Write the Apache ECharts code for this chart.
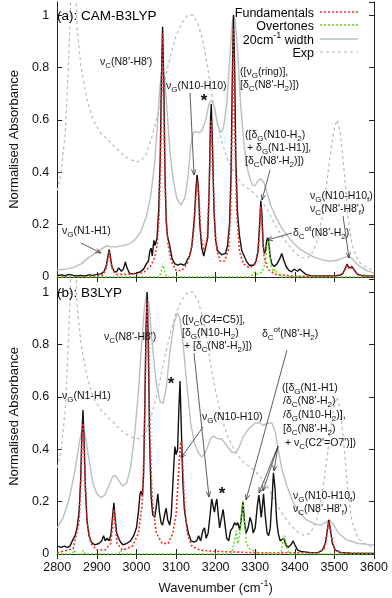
<!DOCTYPE html>
<html>
<head>
<meta charset="utf-8">
<script src="https://cdn.jsdelivr.net/npm/echarts@6/dist/echarts.min.js"></script>
<style>
  html, body { margin: 0; background: #fff; }
  #chart { width: 392px; height: 598px; }
</style>
</head>
<body>
<div id="chart"></div>
<script>
// ---- data: [wavenumber, normalised absorbance] ----
// panel (a) CAM-B3LYP
const camFit = [[2800,0.005],[2810,0.008],[2820,0.005],[2830,0.01],[2840,0.006],[2850,0.004],[2860,0.006],[2870,0.004],[2880,0.008],[2890,0.006],[2900,0.01],[2910,0.012],[2918,0.02],[2924,0.045],[2928,0.08],[2931,0.105],[2934,0.08],[2938,0.04],[2944,0.02],[2950,0.02],[2955,0.035],[2958,0.04],[2962,0.022],[2967,0.03],[2972,0.058],[2976,0.035],[2982,0.015],[2990,0.012],[3000,0.015],[3010,0.02],[3018,0.03],[3025,0.05],[3030,0.06],[3034,0.1],[3037,0.11],[3040,0.08],[3044,0.14],[3047,0.12],[3052,0.15],[3056,0.25],[3060,0.45],[3063,0.75],[3066,0.955],[3069,0.75],[3072,0.4],[3075,0.22],[3078,0.16],[3081,0.155],[3084,0.12],[3090,0.07],[3097,0.05],[3105,0.045],[3112,0.05],[3118,0.045],[3124,0.05],[3128,0.065],[3134,0.08],[3140,0.12],[3146,0.22],[3150,0.33],[3153,0.39],[3156,0.35],[3160,0.2],[3165,0.11],[3170,0.08],[3175,0.085],[3180,0.15],[3184,0.35],[3187,0.6],[3189,0.66],[3192,0.5],[3196,0.25],[3200,0.14],[3205,0.1],[3210,0.095],[3215,0.085],[3220,0.09],[3225,0.09],[3230,0.12],[3235,0.2],[3239,0.4],[3242,0.75],[3245,1.0],[3248,0.8],[3251,0.45],[3255,0.25],[3260,0.16],[3266,0.1],[3272,0.08],[3278,0.06],[3285,0.045],[3290,0.04],[3296,0.045],[3302,0.06],[3307,0.1],[3311,0.2],[3314,0.29],[3317,0.24],[3320,0.12],[3323,0.09],[3326,0.1],[3329,0.14],[3332,0.15],[3335,0.12],[3338,0.075],[3342,0.05],[3348,0.04],[3355,0.05],[3362,0.07],[3367,0.09],[3372,0.065],[3378,0.04],[3385,0.025],[3392,0.02],[3398,0.03],[3402,0.035],[3407,0.022],[3412,0.03],[3415,0.034],[3420,0.02],[3428,0.01],[3440,0.005],[3460,0.004],[3480,0.004],[3500,0.005],[3515,0.007],[3522,0.015],[3528,0.035],[3532,0.05],[3536,0.035],[3540,0.03],[3544,0.04],[3547,0.042],[3551,0.025],[3558,0.01],[3570,0.005],[3600,0.003]]
const camFund = [[2800,0],[2900,0.002],[2915,0.008],[2922,0.025],[2927,0.06],[2931,0.1],[2935,0.06],[2940,0.025],[2950,0.01],[2970,0.01],[3000,0.012],[3020,0.02],[3035,0.04],[3045,0.07],[3052,0.12],[3057,0.22],[3061,0.45],[3064,0.75],[3066,0.93],[3068,0.75],[3071,0.45],[3075,0.22],[3080,0.12],[3088,0.06],[3100,0.025],[3115,0.025],[3128,0.05],[3138,0.1],[3145,0.18],[3150,0.3],[3154,0.37],[3158,0.3],[3163,0.16],[3170,0.1],[3178,0.14],[3183,0.3],[3187,0.55],[3189,0.6],[3192,0.45],[3197,0.22],[3203,0.1],[3212,0.06],[3222,0.06],[3232,0.1],[3238,0.25],[3242,0.6],[3245,0.95],[3248,0.6],[3253,0.25],[3260,0.1],[3270,0.05],[3285,0.035],[3300,0.05],[3308,0.1],[3312,0.2],[3314,0.27],[3317,0.2],[3322,0.08],[3332,0.03],[3350,0.01],[3400,0.003],[3500,0.003],[3520,0.01],[3528,0.03],[3532,0.045],[3537,0.03],[3541,0.028],[3545,0.035],[3547,0.038],[3552,0.02],[3560,0.008],[3600,0.002]]
const camOver = [[2800,0],[2855,0],[2860,0.004],[2865,0],[3058,0],[3064,0.03],[3067,0.045],[3070,0.03],[3076,0],[3288,0],[3295,0.01],[3300,0.02],[3305,0.01],[3318,0.02],[3326,0.06],[3330,0.12],[3333,0.14],[3336,0.1],[3340,0.04],[3346,0.02],[3350,0.03],[3355,0.015],[3365,0],[3600,0]]
const camBroad = [[2800,0.027],[2820,0.03],[2840,0.036],[2860,0.05],[2880,0.075],[2900,0.095],[2915,0.11],[2925,0.12],[2935,0.115],[2950,0.115],[2965,0.12],[2980,0.125],[2995,0.14],[3010,0.17],[3025,0.23],[3035,0.3],[3045,0.42],[3052,0.56],[3058,0.7],[3063,0.78],[3067,0.79],[3072,0.74],[3078,0.62],[3085,0.47],[3093,0.37],[3102,0.3],[3112,0.275],[3122,0.3],[3130,0.38],[3137,0.5],[3143,0.55],[3150,0.555],[3158,0.55],[3166,0.56],[3175,0.6],[3183,0.66],[3190,0.675],[3197,0.65],[3205,0.58],[3213,0.55],[3220,0.57],[3228,0.66],[3236,0.84],[3242,0.97],[3246,1.0],[3250,0.97],[3256,0.85],[3263,0.66],[3272,0.5],[3282,0.4],[3293,0.35],[3300,0.35],[3308,0.37],[3315,0.375],[3322,0.36],[3330,0.32],[3340,0.27],[3355,0.22],[3370,0.18],[3390,0.14],[3410,0.11],[3430,0.09],[3450,0.075],[3470,0.065],[3490,0.06],[3510,0.065],[3525,0.075],[3535,0.078],[3545,0.07],[3560,0.045],[3580,0.025],[3600,0.015]]

// experiment, same trace in both panels
const expSpec = [[2800,0.33],[2810,0.4],[2820,0.55],[2828,0.8],[2833,1.0],[2837,1.3],[2843,1.3],[2847,1.1],[2850,0.95],[2860,0.8],[2875,0.68],[2890,0.6],[2910,0.55],[2930,0.52],[2950,0.49],[2970,0.46],[2990,0.445],[3010,0.44],[3025,0.47],[3040,0.54],[3055,0.63],[3070,0.74],[3085,0.84],[3100,0.92],[3115,0.97],[3130,1.0],[3142,1.0],[3155,0.97],[3168,0.9],[3180,0.8],[3190,0.7],[3200,0.62],[3215,0.52],[3230,0.45],[3250,0.39],[3270,0.35],[3290,0.33],[3310,0.3],[3330,0.26],[3350,0.2],[3370,0.15],[3390,0.11],[3410,0.08],[3425,0.07],[3440,0.08],[3455,0.13],[3468,0.22],[3480,0.35],[3490,0.47],[3500,0.57],[3507,0.6],[3515,0.55],[3525,0.4],[3535,0.22],[3545,0.12],[3560,0.06],[3580,0.035],[3600,0.025]]

// panel (b) B3LYP
const b3Fit = [[2800,0.03],[2805,0.035],[2810,0.025],[2818,0.03],[2825,0.025],[2832,0.03],[2838,0.05],[2845,0.07],[2850,0.1],[2855,0.16],[2859,0.28],[2862,0.45],[2865,0.55],[2868,0.42],[2871,0.25],[2875,0.13],[2880,0.07],[2886,0.045],[2895,0.035],[2905,0.04],[2912,0.05],[2917,0.07],[2921,0.05],[2926,0.06],[2931,0.05],[2936,0.08],[2940,0.15],[2943,0.195],[2946,0.14],[2950,0.08],[2955,0.06],[2960,0.045],[2966,0.035],[2975,0.04],[2985,0.05],[2993,0.07],[3000,0.1],[3005,0.16],[3009,0.23],[3012,0.24],[3015,0.22],[3018,0.3],[3021,0.55],[3024,0.85],[3027,1.0],[3030,0.8],[3033,0.45],[3037,0.22],[3041,0.15],[3046,0.14],[3050,0.18],[3054,0.23],[3058,0.16],[3062,0.12],[3066,0.11],[3071,0.15],[3075,0.175],[3079,0.13],[3084,0.11],[3088,0.15],[3093,0.3],[3097,0.41],[3100,0.38],[3104,0.4],[3107,0.55],[3110,0.66],[3113,0.5],[3117,0.28],[3121,0.17],[3126,0.12],[3131,0.08],[3138,0.05],[3145,0.045],[3152,0.05],[3157,0.07],[3162,0.05],[3168,0.09],[3172,0.1],[3176,0.06],[3181,0.08],[3186,0.15],[3190,0.21],[3194,0.18],[3197,0.16],[3200,0.19],[3203,0.21],[3206,0.16],[3210,0.1],[3215,0.14],[3219,0.17],[3223,0.12],[3228,0.06],[3233,0.05],[3238,0.09],[3243,0.1],[3248,0.12],[3252,0.11],[3256,0.12],[3261,0.09],[3265,0.14],[3269,0.2],[3273,0.12],[3277,0.08],[3282,0.1],[3287,0.14],[3291,0.12],[3295,0.08],[3300,0.1],[3305,0.18],[3309,0.225],[3312,0.19],[3315,0.14],[3318,0.18],[3321,0.23],[3325,0.15],[3330,0.08],[3334,0.07],[3338,0.1],[3342,0.2],[3346,0.31],[3350,0.25],[3354,0.13],[3358,0.08],[3363,0.05],[3368,0.055],[3372,0.06],[3377,0.035],[3383,0.025],[3390,0.035],[3396,0.05],[3400,0.035],[3407,0.015],[3415,0.01],[3425,0.008],[3440,0.005],[3460,0.006],[3470,0.015],[3477,0.04],[3482,0.09],[3486,0.13],[3490,0.09],[3495,0.04],[3502,0.015],[3515,0.006],[3540,0.003],[3600,0.002]]
const b3Fund = [[2800,0.005],[2840,0.02],[2855,0.12],[2860,0.3],[2863,0.45],[2865,0.5],[2867,0.45],[2870,0.3],[2875,0.12],[2885,0.04],[2900,0.015],[2920,0.015],[2935,0.04],[2940,0.12],[2943,0.17],[2946,0.12],[2951,0.04],[2965,0.015],[2990,0.03],[3005,0.08],[3015,0.2],[3020,0.45],[3024,0.8],[3027,0.97],[3030,0.8],[3034,0.45],[3040,0.2],[3050,0.08],[3065,0.04],[3080,0.04],[3092,0.08],[3100,0.15],[3106,0.3],[3110,0.4],[3113,0.43],[3116,0.38],[3121,0.2],[3128,0.08],[3140,0.03],[3160,0.015],[3200,0.01],[3300,0.005],[3460,0.005],[3474,0.02],[3480,0.06],[3484,0.11],[3487,0.125],[3490,0.1],[3494,0.05],[3502,0.015],[3520,0.005],[3600,0.002]]
const b3Over = [[2800,0],[2838,0],[2843,0.015],[2848,0],[2862,0],[2866,0.015],[2870,0],[2955,0],[2960,0.015],[2965,0],[3240,0],[3248,0.05],[3252,0.09],[3256,0.04],[3260,0.06],[3265,0.15],[3269,0.2],[3273,0.12],[3278,0.04],[3285,0.02],[3300,0.01],[3310,0],[3365,0],[3370,0.05],[3374,0.07],[3378,0.04],[3385,0],[3600,0]]
const b3Broad = [[2800,0.1],[2815,0.14],[2830,0.21],[2845,0.32],[2855,0.42],[2862,0.47],[2866,0.48],[2872,0.44],[2880,0.36],[2890,0.27],[2900,0.23],[2910,0.215],[2920,0.225],[2930,0.26],[2940,0.295],[2947,0.3],[2955,0.28],[2965,0.26],[2975,0.27],[2985,0.33],[2995,0.45],[3005,0.62],[3013,0.8],[3020,0.94],[3026,1.0],[3032,0.95],[3040,0.8],[3050,0.65],[3060,0.58],[3067,0.575],[3075,0.63],[3085,0.78],[3095,0.88],[3103,0.92],[3110,0.9],[3118,0.8],[3127,0.65],[3137,0.5],[3147,0.42],[3157,0.385],[3165,0.37],[3175,0.39],[3187,0.44],[3195,0.45],[3205,0.44],[3215,0.44],[3225,0.42],[3240,0.39],[3250,0.385],[3260,0.41],[3270,0.45],[3285,0.48],[3300,0.5],[3312,0.5],[3320,0.49],[3330,0.5],[3342,0.5],[3350,0.47],[3358,0.4],[3368,0.32],[3380,0.26],[3395,0.2],[3410,0.16],[3430,0.13],[3450,0.115],[3465,0.11],[3478,0.12],[3487,0.13],[3497,0.115],[3510,0.08],[3530,0.055],[3560,0.04],[3600,0.035]]

const legendNames = ['Fundamentals', 'Overtones', '20cm^{-1} width', 'Exp']

const FONT = '"Liberation Sans", Arial, sans-serif'

// tiny markup: _X / _{..} subscript, ^{..} superscript -> echarts rich text
function rt(s) {
  let out = '', buf = '', i = 0
  const flush = () => { if (buf) { out += '{n|' + buf + '}'; buf = '' } }
  while (i < s.length) {
    const c = s[i]
    if (c === '_' || c === '^') {
      flush()
      let t
      if (s[i + 1] === '{') { const j = s.indexOf('}', i); t = s.slice(i + 2, j); i = j + 1 }
      else { t = s[i + 1]; i += 2 }
      out += '{' + (c === '_' ? 's' : 'p') + '|' + t + '}'
    } else { buf += c; i++ }
  }
  flush()
  return out
}
function richSet(size) {
  const small = Math.round(size * 0.72)
  return {
    n: { fontSize: size, fontFamily: FONT, color: '#111', verticalAlign: 'top', padding: [3, 0, 0, 0] },
    s: { fontSize: small, fontFamily: FONT, color: '#111', verticalAlign: 'top', padding: [Math.round(size * 0.75), 0, 0, 0] },
    p: { fontSize: small, fontFamily: FONT, color: '#111', verticalAlign: 'top', padding: [0, 0, 0, 0] }
  }
}
const R = richSet(10.5)

function label(x, y, s, extra) {
  return {
    type: 'text', x: x, y: y, z: 100, silent: true,
    style: Object.assign({ text: rt(s), rich: R, fill: '#111', align: 'left', verticalAlign: 'middle' }, extra || {})
  }
}
function arrow(x1, y1, x2, y2) {
  const a = Math.atan2(y2 - y1, x2 - x1), L = 6, w = 0.38
  const st = { stroke: '#333', lineWidth: 0.8, fill: null }
  return [
    { type: 'line', z: 100, silent: true, shape: { x1: x1, y1: y1, x2: x2, y2: y2 }, style: st },
    { type: 'polyline', z: 100, silent: true, style: st, shape: { points: [
      [x2 - L * Math.cos(a - w), y2 - L * Math.sin(a - w)], [x2, y2],
      [x2 - L * Math.cos(a + w), y2 - L * Math.sin(a + w)]] } }
  ]
}

const chart = echarts.init(document.getElementById('chart'))

const grids = [
  { left: 54, right: 18, top: 2, height: 275 },
  { left: 54, right: 18, top: 279, height: 275 }
]
const axisLine = { show: true, lineStyle: { color: '#222', width: 1 } }
const tickIn = { show: true, inside: true, length: 5, lineStyle: { color: '#222' } }

function xAxes(g, showLabels) {
  const base = { type: 'value', gridIndex: g, min: 2800, max: 3600, interval: 100, axisLine: axisLine, axisTick: tickIn, splitLine: { show: false } }
  const bottom = Object.assign({}, base, {
    position: 'bottom',
    axisLabel: { show: showLabels, fontSize: 12.5, fontFamily: FONT, color: '#111', margin: 7, formatter: v => String(v) }
  })
  if (showLabels) {
    bottom.name = '{n|Wavenumber (cm}{p|-1}{n|)}'
    bottom.nameLocation = 'middle'
    bottom.nameGap = 25
    bottom.nameTextStyle = { rich: richSet(13) }
  }
  const top = Object.assign({}, base, { position: 'top', axisLabel: { show: false } })
  return [bottom, top]
}
function yAxes(g) {
  const base = { type: 'value', gridIndex: g, min: 0, max: 1.05, interval: 0.2, axisLine: axisLine, axisTick: tickIn, splitLine: { show: false } }
  const left = Object.assign({}, base, {
    position: 'left',
    name: 'Normalised Absorbance', nameLocation: 'middle', nameGap: 35,
    nameTextStyle: { fontSize: 13, fontFamily: FONT, color: '#111' },
    axisLabel: {
      fontSize: 12.5, fontFamily: FONT, color: '#111', margin: 8, showMaxLabel: false,
      formatter: v => Math.abs(v * 5 - Math.round(v * 5)) < 1e-6 ? String(Math.round(v * 10) / 10) : ''
    }
  })
  const right = Object.assign({}, base, { position: 'right', axisLabel: { show: false } })
  return [left, right]
}

function panelSeries(g, fit, fund, over, broad) {
  const common = { type: 'line', xAxisIndex: 2 * g, yAxisIndex: 2 * g, symbol: 'none', showSymbol: false, silent: true, animation: false }
  return [
    Object.assign({}, common, { name: 'Exp', data: expSpec, z: 1, lineStyle: { color: '#b3bcbc', width: 1.2, type: [3, 3] } }),
    Object.assign({}, common, { name: '20cm width', data: broad, z: 2, lineStyle: { color: '#b6c2c0', width: 1.4 } }),
    Object.assign({}, common, { name: 'fit', data: fit, z: 3, lineStyle: { color: '#111', width: 1.4 } }),
    Object.assign({}, common, { name: 'Fundamentals', data: fund, z: 4, lineStyle: { color: '#ff2a2a', width: 1.6, type: [2, 2] } }),
    Object.assign({}, common, { name: 'Overtones', data: over, z: 5, lineStyle: { color: '#55e000', width: 1.4, type: [2, 2] } })
  ]
}

// legend drawn as graphic (text right-aligned, sample on the right, gnuplot style)
const legendStyles = [
  { stroke: '#ff2a2a', lineWidth: 1.6, lineDash: [2, 2] },
  { stroke: '#55e000', lineWidth: 1.4, lineDash: [2, 2] },
  { stroke: '#b6c2c0', lineWidth: 1.4 },
  { stroke: '#b3bcbc', lineWidth: 1.2, lineDash: [3, 3] }
]
const legendY = [12, 25, 39, 52]
const RL = richSet(12.5)
const legendGraphics = []
legendNames.forEach((nm, i) => {
  legendGraphics.push({ type: 'text', x: 314, y: legendY[i], z: 100, silent: true,
    style: { text: rt(nm), rich: RL, align: 'right', verticalAlign: 'middle' } })
  legendGraphics.push({ type: 'line', z: 100, silent: true,
    shape: { x1: 320, y1: legendY[i], x2: 358, y2: legendY[i] }, style: legendStyles[i] })
})

const RT = richSet(13.5)
const annotations = [
  // panel (a)
  { type: 'text', x: 57, y: 15, z: 100, style: { text: rt('(a): CAM-B3LYP'), rich: RT, verticalAlign: 'middle' } },
  label(100, 62, 'ν_C(N8\'-H8\')'),
  label(166, 86, 'ν_G(N10-H10)'),
  label(62, 231, 'ν_G(N1-H1)'),
  label(240, 72, '([ν_G(ring)],'),
  label(240, 85, '[δ_C(N8\'-H_2)])'),
  label(245, 135, '([δ_G(N10-H_2)'),
  label(247, 148, '+ δ_G(N1-H1)],'),
  label(245, 161, '[δ_C(N8\'-H_2)])'),
  label(293, 233, 'δ_C^{ot}(N8\'-H_2)'),
  label(310, 196, 'ν_G(N10-H10_f)'),
  label(310, 209, 'ν_C(N8\'-H8\'_f)'),
  { type: 'text', x: 204, y: 101, z: 100, style: { text: '*', font: 'bold 17px ' + FONT, fill: '#111', align: 'center', verticalAlign: 'middle' } },
  ...arrow(81, 243, 101, 253),
  ...arrow(190, 93, 194, 175),
  ...arrow(270, 170, 262, 200),
  ...arrow(292, 233, 267, 240),
  ...arrow(343, 216, 349, 258),
  // panel (b)
  { type: 'text', x: 57, y: 292, z: 100, style: { text: rt('(b): B3LYP'), rich: RT, verticalAlign: 'middle' } },
  label(104, 337, 'ν_C(N8\'-H8\')'),
  label(62, 396, 'ν_G(N1-H1)'),
  label(182, 320, '([ν_C(C4=C5)],'),
  label(182, 333, '[δ_G(N10-H_2)'),
  label(184, 346, '+ [δ_C(N8\'-H_2)])'),
  label(202, 417, 'ν_G(N10-H10)'),
  label(262, 334, 'δ_C^{ot}(N8\'-H_2)'),
  label(282, 388, '([δ_G(N1-H1)'),
  label(283, 401, '/δ_C(N8\'-H_2)'),
  label(283, 415, '/δ_G(N10-H_2)],'),
  label(283, 429, '[δ_C(N8\'-H_2)'),
  label(285, 443, '+ ν_C(C2\'=O7\')])'),
  label(293, 496, 'ν_G(N10-H10_f)'),
  label(293, 509, 'ν_C(N8\'-H8\'_f)'),
  { type: 'text', x: 171, y: 384, z: 100, style: { text: '*', font: 'bold 17px ' + FONT, fill: '#111', align: 'center', verticalAlign: 'middle' } },
  { type: 'text', x: 222, y: 494, z: 100, style: { text: '*', font: 'bold 17px ' + FONT, fill: '#111', align: 'center', verticalAlign: 'middle' } },
  ...arrow(194, 353, 209, 497),
  ...arrow(203, 427, 181, 458),
  ...arrow(287, 350, 246, 500),
  ...arrow(278, 446, 259, 493),
  ...arrow(278, 446, 263, 491),
  ...arrow(278, 446, 274, 471)
]

chart.setOption({
  animation: false,
  backgroundColor: '#fff',
  grid: grids,
  xAxis: [...xAxes(0, false), ...xAxes(1, true)],
  yAxis: [...yAxes(0), ...yAxes(1)],
  series: [
    ...panelSeries(0, camFit, camFund, camOver, camBroad),
    ...panelSeries(1, b3Fit, b3Fund, b3Over, b3Broad)
  ],
  graphic: [...legendGraphics, ...annotations]
})
</script>
</body>
</html>
